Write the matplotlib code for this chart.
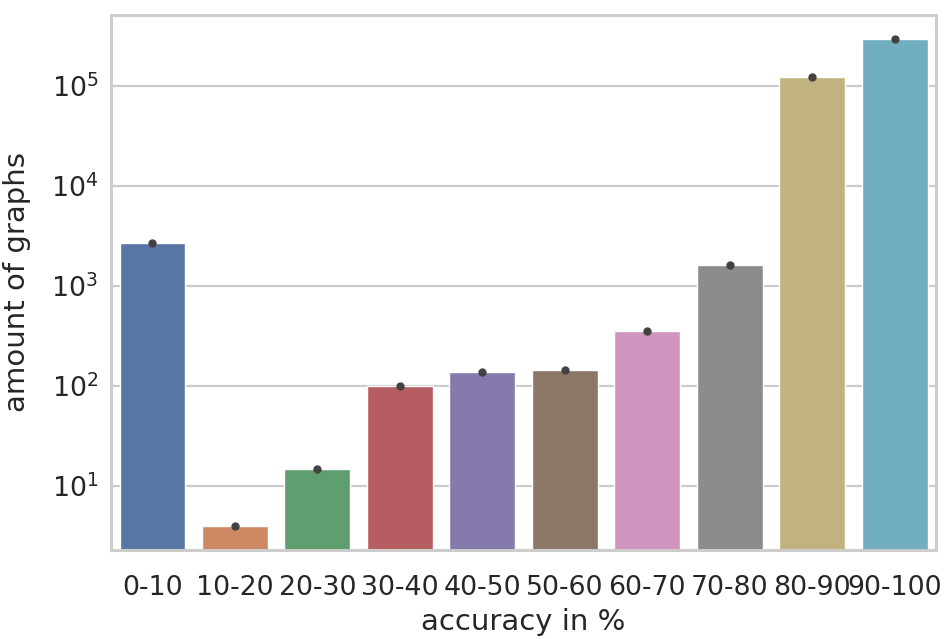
import matplotlib
matplotlib.use("Agg")
import matplotlib.pyplot as plt
import seaborn as sns

# accuracy buckets and graph counts
categories = ["0-10", "10-20", "20-30", "30-40", "40-50",
              "50-60", "60-70", "70-80", "80-90", "90-100"]
counts = [2700, 4, 15, 100, 138, 145, 355, 1620, 123000, 295000]

sns.set_theme(style="whitegrid")
plt.rcParams['font.family'] = ['DejaVu Sans']

fig, ax = plt.subplots(figsize=(9.51, 6.39), dpi=100)
fig.subplots_adjust(left=0.117, right=0.984, top=0.977, bottom=0.139)

sns.barplot(x=categories, y=counts, hue=categories, palette="deep",
            legend=False, ax=ax, saturation=0.75)
ax.set_yscale("log")

# point markers at each bar's value (seaborn's zero-width error bars)
ax.plot(range(len(categories)), counts, "o", color=".26", ms=5, zorder=5)
ax.set_xlim(-0.5, len(categories) - 0.5)
ax.set_ylim(2.3, 5.1e5)

ax.set_xlabel("accuracy in %", fontsize=21, labelpad=5)
ax.set_ylabel("amount of graphs", fontsize=21, labelpad=14)
ax.tick_params(axis="both", labelsize=19.3)
ax.tick_params(axis="x", pad=12)
ax.tick_params(axis="y", which="minor", left=False)
ax.grid(True, axis="y", which="major", color="#cccccc", linewidth=1.6)
ax.grid(False, axis="x")
for s in ax.spines.values():
    s.set_color("#cccccc")
    s.set_linewidth(2.2)

plt.savefig("out.png", dpi=100)
plt.close()
